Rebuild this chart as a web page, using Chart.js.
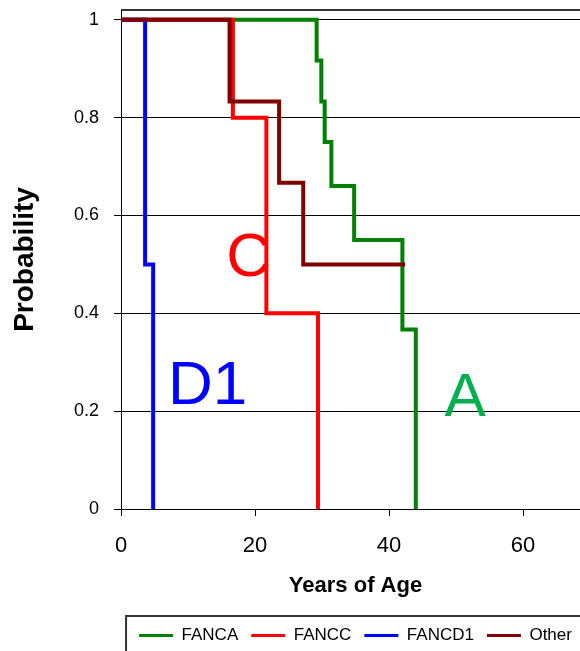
<!DOCTYPE html>
<html>
<head>
<meta charset="utf-8">
<script src="https://cdn.jsdelivr.net/npm/chart.js@4.4.1/dist/chart.umd.min.js"></script>
<style>
body { margin: 0; background: #fff; }
#wrap { width: 580px; height: 651px; overflow: hidden; }
#box { position: relative; width: 600px; height: 669px; }
</style>
</head>
<body>
<div id="wrap"><div id="box"><canvas id="kmChart"></canvas></div></div>
<script>
// survival steps (age in years, probability)
const seriesNames = ['FANCA', 'FANCC', 'FANCD1', 'Other'];

const fancaAge = [0, 29.2, 29.9, 30.4, 31.4, 34.8, 42.0, 44.0];
const fancaProb = [1, 0.917, 0.833, 0.75, 0.66, 0.55, 0.367, 0];

const fanccAge = [0, 16.7, 21.7, 29.4];
const fanccProb = [1, 0.8, 0.4, 0];

const fancd1Age = [0, 3.6, 4.8];
const fancd1Prob = [1, 0.5, 0];

const otherAge = [0, 16.2, 23.6, 27.2, 42.4];
const otherProb = [1, 0.833, 0.667, 0.5, 0.5];

const xTicks = [0, 20, 40, 60];
const yTicks = [0, 0.2, 0.4, 0.6, 0.8, 1];

const curveLabels = ['A', 'C', 'D1'];

let chart;

function toPoints(ages, probs) {
  return ages.map((a, i) => ({ x: a, y: probs[i] }));
}

function lineSet(i, ages, probs, color, order) {
  return {
    label: seriesNames[i],
    data: toPoints(ages, probs),
    borderColor: color,
    backgroundColor: color,
    borderWidth: 4,
    stepped: true,
    pointRadius: 0,
    fill: false,
    order: order
  };
}

// big letters next to the curves, anchored in data units
const curveText = {
  id: 'curveText',
  beforeDatasetsDraw(c) {
    const ctx = c.ctx;
    const xs = c.scales.x, ys = c.scales.y;
    const spots = [
      { x: 48.3, y: 0.19, color: '#00b050' },
      { x: 15.7, y: 0.476, color: '#ff0000' },
      { x: 7.0, y: 0.215, color: '#0000ff' }
    ];
    ctx.save();
    ctx.font = "62px 'Liberation Sans', Arial, sans-serif";
    ctx.textBaseline = 'alphabetic';
    curveLabels.forEach((t, i) => {
      ctx.fillStyle = spots[i].color;
      ctx.fillText(t, xs.getPixelForValue(spots[i].x), ys.getPixelForValue(spots[i].y));
    });
    ctx.restore();
  }
};

// top edge of plot area and the frame around the legend
const frames = {
  id: 'frames',
  afterDraw(c) {
    const ctx = c.ctx;
    const a = c.chartArea;
    ctx.save();
    ctx.strokeStyle = '#333';
    ctx.lineWidth = 2;
    ctx.beginPath();
    ctx.moveTo(a.left, a.top);
    ctx.lineTo(a.right + 20, a.top);
    ctx.stroke();
    const lg = c.legend;
    const hb = lg.legendHitBoxes[0];
    ctx.strokeRect(hb.left - 13, lg.top + 2, 1000, 1000);
    ctx.restore();
  }
};

function initChart() {
  Chart.defaults.font.family = "'Liberation Sans', Arial, sans-serif";
  Chart.defaults.color = '#000';

  const ctx = document.getElementById('kmChart').getContext('2d');
  chart = new Chart(ctx, {
    type: 'line',
    data: {
      datasets: [
        lineSet(0, fancaAge, fancaProb, '#008000', 4),
        lineSet(1, fanccAge, fanccProb, '#ff0000', 3),
        lineSet(2, fancd1Age, fancd1Prob, '#0000ff', 2),
        lineSet(3, otherAge, otherProb, '#800000', 1)
      ]
    },
    options: {
      responsive: true,
      maintainAspectRatio: false,
      animation: false,
      layout: { padding: { top: 10, right: 10, bottom: 15, left: 0 } },
      scales: {
        x: {
          type: 'linear',
          min: 0,
          max: 70,
          afterBuildTicks: (s) => { s.ticks = xTicks.map(v => ({ value: v })); },
          afterFit: (s) => { s.height = 105; },
          grid: { drawOnChartArea: false, color: '#000', tickLength: 7 },
          border: { color: '#000', width: 1 },
          ticks: { padding: 17, font: { size: 22 }, maxRotation: 0 },
          title: {
            display: true,
            text: 'Years of Age',
            font: { size: 22, weight: 'bold' },
            padding: { top: 0, bottom: 15 }
          }
        },
        y: {
          min: 0,
          max: 1.02,
          afterBuildTicks: (s) => { s.ticks = yTicks.map(v => ({ value: v })); },
          afterFit: (s) => { s.width = 121; s.paddingTop = 0; s.paddingBottom = 0; },
          grid: { color: '#000', tickLength: 7 },
          border: { color: '#000', width: 1 },
          ticks: {
            padding: 15,
            font: { size: 18 },
            callback: (v) => String(Math.round(v * 10) / 10)
          },
          title: {
            display: true,
            text: 'Probability',
            font: { size: 28, weight: 'bold' },
            padding: { top: 8, bottom: 0 }
          }
        }
      },
      plugins: {
        legend: {
          position: 'bottom',
          fullSize: false,
          labels: {
            usePointStyle: true,
            pointStyle: 'line',
            pointStyleWidth: 34,
            padding: 13,
            font: { size: 17 },
            sort: (a, b) => a.datasetIndex - b.datasetIndex,
            generateLabels: (c) => Chart.defaults.plugins.legend.labels.generateLabels(c)
              .map(l => Object.assign(l, { lineWidth: 3 }))
          }
        },
        tooltip: { enabled: false }
      }
    },
    plugins: [curveText, frames]
  });
}

window.onload = initChart;
</script>
</body>
</html>
